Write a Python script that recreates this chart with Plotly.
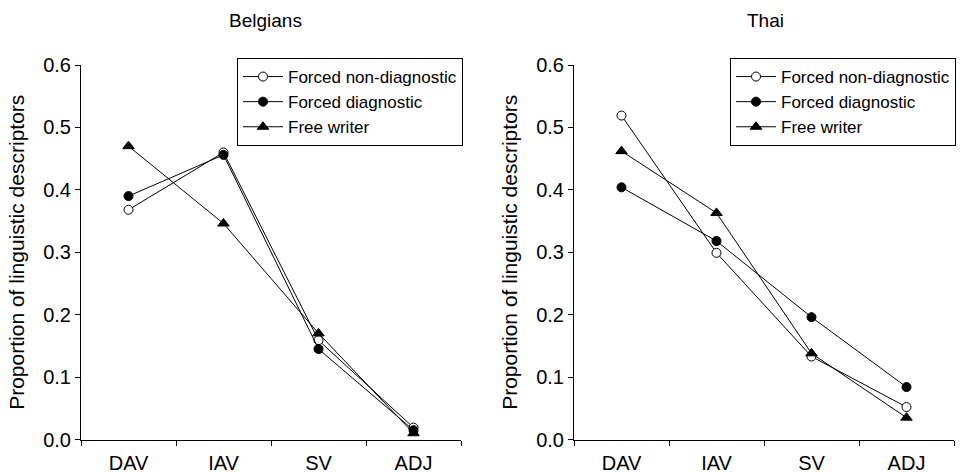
import plotly.graph_objects as go

categories = ["DAV", "IAV", "SV", "ADJ"]
series_names = ["Forced non-diagnostic", "Forced diagnostic", "Free writer"]

belgians_nondiag = [0.368, 0.460, 0.159, 0.019]
belgians_diag = [0.390, 0.456, 0.145, 0.015]
belgians_free = [0.470, 0.346, 0.170, 0.010]

thai_nondiag = [0.519, 0.299, 0.133, 0.052]
thai_diag = [0.404, 0.318, 0.196, 0.084]
thai_free = [0.462, 0.363, 0.138, 0.035]

panel_titles = ["Belgians", "Thai"]
y_title = "Proportion of linguistic descriptors"
y_ticks = [0.0, 0.1, 0.2, 0.3, 0.4, 0.5, 0.6]

FONT = "Liberation Sans, Arial, sans-serif"
W, H = 960, 472

marker_styles = [
    dict(symbol="circle", size=9, color="white", line=dict(color="black", width=1)),
    dict(symbol="circle", size=9, color="black", line=dict(color="black", width=1)),
    dict(symbol="triangle-up", size=10, color="black", line=dict(color="black", width=1)),
]

fig = go.Figure()

panels = [
    ([belgians_nondiag, belgians_diag, belgians_free], "x", "y", "legend"),
    ([thai_nondiag, thai_diag, thai_free], "x2", "y2", "legend2"),
]
for data, xa, ya, lg in panels:
    for name, vals, ms in zip(series_names, data, marker_styles):
        fig.add_trace(go.Scatter(
            x=categories, y=vals, name=name, mode="lines+markers",
            line=dict(color="black", width=1), marker=ms,
            xaxis=xa, yaxis=ya, legend=lg, cliponaxis=False,
        ))

ydom = [1 - 439.5 / H, 1 - 65 / H]
xdom1 = [81 / W, 461 / W]
xdom2 = [574 / W, 954 / W]

axis_common = dict(
    showline=True, linecolor="black", linewidth=1, mirror=False,
    showgrid=False, zeroline=False, ticks="outside", ticklen=5,
    tickcolor="black", tickwidth=1,
    tickfont=dict(family=FONT, size=20, color="black"),
)

xcommon = dict(axis_common, type="category", tickson="boundaries",
               range=[-0.5, 3.5], categoryorder="array", categoryarray=categories,
               ticklabelstandoff=5)
ycommon = dict(axis_common, range=[0, 0.6], tickvals=y_ticks, tickformat=".1f",
               title=dict(text=y_title, font=dict(family=FONT, size=21, color="black"),
                          standoff=12))

legend_common = dict(
    bgcolor="white", bordercolor="black", borderwidth=1,
    font=dict(family=FONT, size=17, color="black"),
    xanchor="left", yanchor="top", tracegroupgap=0, itemwidth=40,
    itemclick=False,
)

fig.update_layout(
    width=W, height=H,
    paper_bgcolor="white", plot_bgcolor="white",
    margin=dict(l=0, r=0, t=0, b=0, autoexpand=False),
    showlegend=True,
    xaxis=dict(xcommon, domain=xdom1, anchor="y"),
    yaxis=dict(ycommon, domain=ydom, anchor="x"),
    xaxis2=dict(xcommon, domain=xdom2, anchor="y2"),
    yaxis2=dict(ycommon, domain=ydom, anchor="x2"),
    legend=dict(legend_common, x=237 / W, y=1 - 58 / H),
    legend2=dict(legend_common, x=730 / W, y=1 - 58 / H),
    annotations=[
        dict(text=panel_titles[0], x=265 / W, y=1 - 21 / H, xref="paper", yref="paper",
             showarrow=False, xanchor="center", yanchor="middle",
             font=dict(family=FONT, size=19, color="black")),
        dict(text=panel_titles[1], x=765 / W, y=1 - 21 / H, xref="paper", yref="paper",
             showarrow=False, xanchor="center", yanchor="middle",
             font=dict(family=FONT, size=19, color="black")),
    ],
)

fig.write_html(
    "out.html",
    config={"displayModeBar": False},
    post_script="document.body.style.margin='0';document.body.style.overflow='hidden';",
)
